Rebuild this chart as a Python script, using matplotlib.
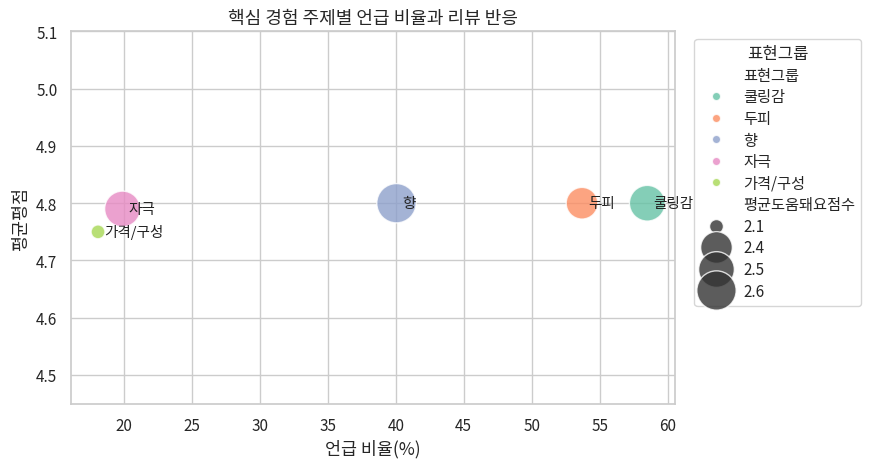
import pandas as pd
import matplotlib
matplotlib.use("Agg")
import matplotlib.pyplot as plt
import seaborn as sns

sns.set_theme(style="whitegrid")
plt.rcParams["font.family"] = ["Noto Sans CJK KR", "DejaVu Sans"]
plt.rcParams["axes.unicode_minus"] = False

# ── data ─────────────────────────────────────────────
groups = ["쿨링감", "두피", "향", "자극", "가격/구성"]
mention_pct = [58.5, 53.7, 40.05, 19.9, 18.1]
avg_rating = [4.80, 4.80, 4.80, 4.79, 4.75]
helpful_score = [2.5, 2.4, 2.6, 2.5, 2.1]

df = pd.DataFrame({
    "표현그룹": groups,
    "언급비율": mention_pct,
    "평균평점": avg_rating,
    "평균도움돼요점수": helpful_score,
})

fig, ax = plt.subplots(figsize=(8.82, 4.64), dpi=100)
sns.scatterplot(data=df, x="언급비율", y="평균평점",
                hue="표현그룹", size="평균도움돼요점수",
                sizes=(100, 800), palette="Set2", alpha=0.8,
                edgecolor="white", linewidth=1, ax=ax)

for _, r in df.iterrows():
    ax.text(r["언급비율"] + 0.45, r["평균평점"], r["표현그룹"],
            va="center", ha="left", fontsize=10.5, color="#222222")

ax.set_ylim(4.45, 5.1)
ax.set_title("핵심 경험 주제별 언급 비율과 리뷰 반응", fontsize=13)
ax.set_xlabel("언급 비율(%)", fontsize=12.5)
ax.set_ylabel("평균평점", fontsize=12.5)
ax.tick_params(labelsize=11)
ax.legend(title="표현그룹", bbox_to_anchor=(1.02, 1), loc="upper left",
          fontsize=11, title_fontsize=12, labelspacing=0.3)

plt.subplots_adjust(left=0.08, right=0.765, top=0.93, bottom=0.128)
plt.savefig("out.png", dpi=100)
